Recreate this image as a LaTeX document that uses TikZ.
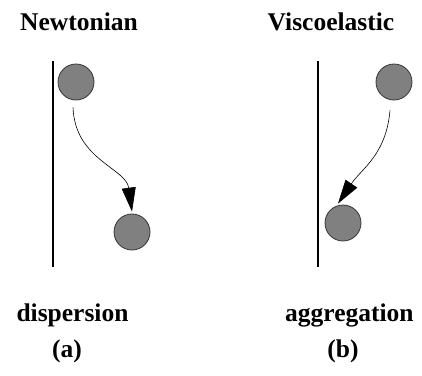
\documentclass[tikz,border=0pt]{standalone}
\usepackage{fontspec}
\setmainfont{Liberation Serif}
\usetikzlibrary{arrows.meta}

\begin{document}
\begin{tikzpicture}[x=1pt, y=-1pt,
  particle/.style={circle, fill=gray, draw=black!80, line width=0.8pt, minimum size=36pt, inner sep=0pt},
  wallline/.style={line width=2.4pt},
  drift/.style={line width=0.6pt, -{Triangle[length=24pt, width=14pt]}},
  heading/.style={anchor=base, inner sep=0pt, font=\fontsize{25.5}{30}\selectfont\bfseries}]
  \useasboundingbox (0,0) rectangle (422,375);
  % (a) Newtonian
  \node[heading] (titleA) at (79,30) {Newtonian};
  \draw[wallline] (53,61) -- (53,267);
  \node[particle] (pA1) at (76,82) {};
  \node[particle] (pA2) at (132,232) {};
  \draw[drift] ([shift={(-3pt,-7pt)}]pA1.south) .. controls (75,160) and (126,168) .. ([yshift=2pt]pA2.north);
  \node[heading] (resA) at (72.5,321) {dispersion};
  \node[heading] (capA) at (67,357) {(a)};
  % (b) Viscoelastic
  \node[heading] (titleB) at (331,30) {Viscoelastic};
  \draw[wallline] (318,61) -- (318,267);
  \node[particle] (pB1) at (394,82) {};
  \node[particle] (pB2) at (343,223) {};
  \draw[drift] ([shift={(-4pt,-10pt)}]pB1.south) .. controls (386,155) and (362,168) .. ([shift={(-5pt,1pt)}]pB2.north);
  \node[heading, anchor=base west] (resB) at (285,321) {aggregation};
  \node[heading] (capB) at (343,357) {(b)};
\end{tikzpicture}
\end{document}
